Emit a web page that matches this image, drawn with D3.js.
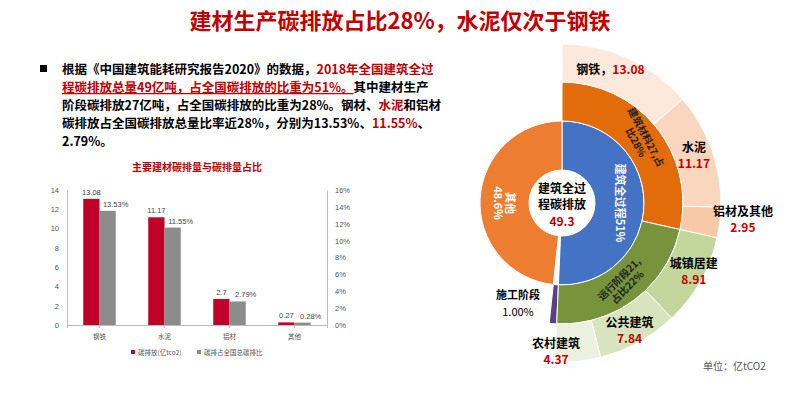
<!DOCTYPE html><html><head><meta charset="utf-8"><script src="https://cdn.jsdelivr.net/npm/d3@7"></script>
<style>body{margin:0;background:#fff}svg{font-family:"Noto Sans CJK SC",sans-serif}</style></head><body><svg width="800" height="401"></svg>
<script>
const categories=["钢铁","水泥","铝材","其他"];
const emissions=[13.08,11.17,2.7,0.27];
const shares=[13.53,11.55,2.79,0.28];
const leftTicks=[0,2,4,6,8,10,12,14];
const rightTicks=[0,2,4,6,8,10,12,14,16];
const innerNames=["建筑全过程51%","施工阶段","其他48.6%"];
const innerVals=[51,1,48.6];
const midNames=["建筑材料27,占比28%","运行阶段21,占比22%"];
const midVals=[27,21];
const outerNames=["钢铁","水泥","铝材及其他","城镇居建","公共建筑","农村建筑"];
const outerVals=[13.08,11.17,2.95,8.91,7.84,4.37];

const svg=d3.select("svg");
const red="#C00000";
svg.append("text").attr("x",400).attr("y",29).attr("text-anchor","middle").attr("fill",red).attr("font-size",22).attr("font-weight","bold").text("建材生产碳排放占比28%，水泥仅次于钢铁");
svg.append("rect").attr("x",40).attr("y",65).attr("width",7).attr("height",7).attr("fill","#000");
const lines=[
 [["根据《中国建筑能耗研究报告2020》的数据，",0],["2018年全国建筑全过",1]],
 [["程碳排放总量49亿吨，占全国碳排放的比重为51%。",2],["其中建材生产",0]],
 [["阶段碳排放27亿吨，占全国碳排放的比重为28%。钢材、",0],["水泥",1],["和铝材",0]],
 [["碳排放占全国碳排放总量比率近28%，分别为13.53%、",0],["11.55%",1],["、",0]],
 [["2.79%。",0]]];
lines.forEach((l,i)=>{const t=svg.append("text").attr("x",62).attr("y",74+i*18).attr("font-size",12.5).attr("font-weight","bold");
 l.forEach(([s,c])=>t.append("tspan").text(s).attr("fill",c?red:"#000").attr("text-decoration",c==2?"underline":null));});

// bar chart
const x0=d3.scaleBand().domain(categories).range([67,327]).paddingInner(0.5).paddingOuter(0.25);
const x1=d3.scaleBand().domain([0,1]).range([0,x0.bandwidth()]);
const yL=d3.scaleLinear().domain([0,14]).range([325,190]);
const yR=d3.scaleLinear().domain([0,16]).range([325,190]);
svg.append("text").attr("x",197).attr("y",171).attr("text-anchor","middle").attr("fill",red).attr("font-size",10).attr("font-weight","bold").text("主要建材碳排量与碳排量占比");
const ga=svg.append("g").attr("transform","translate(67,0)").call(d3.axisLeft(yL).tickValues(leftTicks).tickSize(0).tickPadding(8));
const gr=svg.append("g").attr("transform","translate(327,0)").call(d3.axisRight(yR).tickValues(rightTicks).tickSize(0).tickPadding(8).tickFormat(d=>d+"%"));
const gb=svg.append("g").attr("transform","translate(0,325)").call(d3.axisBottom(x0).tickSize(3).tickPadding(6));
[ga,gr,gb].forEach(g=>{g.selectAll("path,line").attr("stroke","#bbb");g.selectAll("text").attr("fill","#555").attr("font-size",7.5).attr("font-family","Liberation Sans, sans-serif");});
gb.selectAll("text").attr("font-family","Noto Sans CJK SC").attr("font-size",6.5);
categories.forEach((c,i)=>{
 svg.append("rect").attr("x",x0(c)+x1(0)).attr("y",yL(emissions[i])).attr("width",x1.bandwidth()).attr("height",325-yL(emissions[i])).attr("fill","#C0022A");
 svg.append("rect").attr("x",x0(c)+x1(1)).attr("y",yR(shares[i])).attr("width",x1.bandwidth()).attr("height",325-yR(shares[i])).attr("fill","#8C8C8C");
 svg.append("text").attr("x",x0(c)+x1(0)+x1.bandwidth()/2).attr("y",yL(emissions[i])-4).attr("text-anchor","middle").attr("font-size",7.5).attr("fill","#444").attr("font-family","Liberation Sans").text(emissions[i]);
 svg.append("text").attr("x",x0(c)+x1(1)+x1.bandwidth()/2+8).attr("y",yR(shares[i])-4).attr("text-anchor","middle").attr("font-size",7.5).attr("fill","#444").attr("font-family","Liberation Sans").text(shares[i].toFixed(2)+"%");
});
svg.append("rect").attr("x",131).attr("y",350).attr("width",4).attr("height",4).attr("fill","#C0022A");
svg.append("text").attr("x",138).attr("y",355).attr("font-size",6.5).attr("fill","#555").text("碳排放(亿tco2)");
svg.append("rect").attr("x",197).attr("y",350).attr("width",4).attr("height",4).attr("fill","#8C8C8C");
svg.append("text").attr("x",204).attr("y",355).attr("font-size",6.5).attr("fill","#555").text("碳排占全国总碳排比");

// sunburst
const cx=562,cy=203;
const g=svg.append("g").attr("transform",`translate(${cx},${cy})`);
const innerPie=d3.pie().sort(null)(innerVals);
const degPer=(innerPie[0].endAngle)/(midVals[0]+midVals[1]);
const arc=d3.arc();
const innerCols=["#4472C4","#5B3F86","#ED7D31"];
innerPie.forEach((p,i)=>{
 const r=i==1?[82,121]:[33,82];
 g.append("path").attr("d",arc({innerRadius:r[0],outerRadius:r[1],startAngle:p.startAngle,endAngle:p.endAngle})).attr("fill",innerCols[i]).attr("stroke","#fff").attr("stroke-width",1);
});
let a=0;const midCols=["#E26B0A","#77933C"];const midAngles=[];
midVals.forEach((v,i)=>{const s=a,e=a+v*degPer;a=e;midAngles.push([s,e]);
 g.append("path").attr("d",arc({innerRadius:82,outerRadius:121,startAngle:s,endAngle:e})).attr("fill",midCols[i]).attr("stroke","#fff");});
const outerCols=["#FCE9DC","#F9D6BE","#F7C9A8","#C3D69B","#D7E4BD","#EBF1DE"];
const outerScaleA=midAngles[0][1]/(outerVals[0]+outerVals[1]+outerVals[2]);
const outerScaleB=(midAngles[1][1]-midAngles[1][0])/(outerVals[3]+outerVals[4]+outerVals[5]);
a=0;const oa=[];
outerVals.forEach((v,i)=>{const s=a,e=a+v*(i<3?outerScaleA:outerScaleB);a=e;oa.push([s,e]);
 g.append("path").attr("d",arc({innerRadius:121,outerRadius:159,startAngle:s,endAngle:e})).attr("fill",outerCols[i]).attr("stroke","#fff");});
g.append("text").attr("y",-10).attr("text-anchor","middle").attr("font-size",12).attr("font-weight","bold").text("建筑全过");
g.append("text").attr("y",6).attr("text-anchor","middle").attr("font-size",12).attr("font-weight","bold").text("程碳排放");
g.append("text").attr("y",23).attr("text-anchor","middle").attr("font-size",12).attr("font-weight","bold").attr("fill",red).text("49.3");
function rotText(ang,r,rot,lines,col,fs){const px=Math.sin(ang)*r,py=-Math.cos(ang)*r;
 const t=g.append("g").attr("transform",`translate(${px},${py}) rotate(${rot})`);
 lines.forEach((l,i)=>t.append("text").attr("y",(i-(lines.length-1)/2)*fs*1.15+fs*0.35).attr("text-anchor","middle").attr("font-size",fs).attr("font-weight","bold").attr("fill",col).text(l));}
rotText(Math.PI/2,58,90,["建筑全过程51%"],"#fff",11);
rotText(-Math.PI/2,58,90,["其他","48.6%"],"#fff",11);
rotText(midAngles[0][0]/2+midAngles[0][1]/2,101,62,["建筑材料27,占","比28%"],"#222",10);
rotText(midAngles[1][0]/2+midAngles[1][1]/2,101,-45,["运行阶段21,","占比22%"],"#222",10);
const olab=[[0,140,"钢铁，13.08",null,[-10,-2]],[1,140,"水泥","11.17",[0,0]],[2,140,"铝材及其他","2.95",[42,0]],[3,140,"城镇居建","8.91",[10,0]],[4,140,"公共建筑","7.84",[0,5]],[5,140,"农村建筑","4.37",[-20,10]]];
olab.forEach(([k,r,n,v,d])=>{const ang=(oa[k][0]+oa[k][1])/2;const px=Math.sin(ang)*r+d[0],py=-Math.cos(ang)*r+d[1];
 if(v===null){const t=g.append("text").attr("x",px).attr("y",py).attr("text-anchor","middle").attr("font-size",12).attr("font-weight","bold");t.append("tspan").text("钢铁，");t.append("tspan").attr("fill",red).text("13.08");}
 else{g.append("text").attr("x",px).attr("y",py-4).attr("text-anchor","middle").attr("font-size",12).attr("font-weight","bold").text(n);
 g.append("text").attr("x",px).attr("y",py+12).attr("text-anchor","middle").attr("font-size",12).attr("font-weight","bold").attr("fill",red).text(v);}});
g.append("text").attr("x",-44).attr("y",96).attr("text-anchor","middle").attr("font-size",11).attr("font-weight","bold").text("施工阶段");
g.append("text").attr("x",-44).attr("y",113).attr("text-anchor","middle").attr("font-size",11).text("1.00%");
svg.append("text").attr("x",703).attr("y",370).attr("font-size",10).attr("fill","#555").text("单位：亿tCO2");
</script></body></html>
